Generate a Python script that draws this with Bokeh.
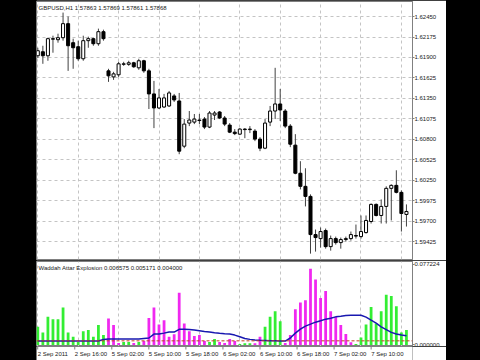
from bokeh.plotting import figure
from bokeh.models import Range1d, FixedTicker, Label, Spacer, PrintfTickFormatter, Span
from bokeh.layouts import column, row
from bokeh.embed import file_html
from bokeh.resources import INLINE

# ---------------- data ----------------
opens = [1.61923, 1.61977, 1.61923, 1.62146, 1.62139, 1.62166, 1.62355, 1.62099, 1.62045, 1.61883,
         1.62126, 1.62153, 1.62085, 1.62247, 1.61720, 1.61639, 1.61667, 1.61808, 1.61808, 1.61829,
         1.61761, 1.61856, 1.61720, 1.61410, 1.61221, 1.61234, 1.61248, 1.61383, 1.61315, 1.60707,
         1.61018, 1.61031, 1.61059, 1.61072, 1.60964, 1.61126, 1.61167, 1.61086, 1.60991, 1.60896,
         1.60869, 1.60937, 1.60930, 1.60910, 1.60802, 1.60680, 1.61031, 1.61180, 1.61275, 1.61180,
         1.60977, 1.60721, 1.60343, 1.60167, 1.60032, 1.59518, 1.59464, 1.59572, 1.59356, 1.59464,
         1.59410, 1.59451, 1.59464, 1.59505, 1.59491, 1.59545, 1.59694, 1.59924, 1.59775, 1.59897,
         1.60140, 1.60180, 1.60086, 1.59789]
highs = [1.62031, 1.62058, 1.62166, 1.62193, 1.62220, 1.62504, 1.62450, 1.62153, 1.62126, 1.62193,
         1.62180, 1.62166, 1.62288, 1.62274, 1.61748, 1.61707, 1.61842, 1.61842, 1.61856, 1.61842,
         1.61883, 1.61869, 1.61748, 1.61585, 1.61477, 1.61410, 1.61450, 1.61410, 1.61423, 1.61072,
         1.61180, 1.61140, 1.61140, 1.61099, 1.61180, 1.61180, 1.61180, 1.61113, 1.61018, 1.60937,
         1.60950, 1.60950, 1.60977, 1.60937, 1.60829, 1.61072, 1.61248, 1.61761, 1.61477, 1.61207,
         1.61004, 1.60869, 1.60505, 1.60410, 1.60059, 1.59586, 1.59613, 1.59599, 1.59505, 1.59491,
         1.59478, 1.59491, 1.59559, 1.59653, 1.59775, 1.59775, 1.59937, 1.59937, 1.59991, 1.60167,
         1.60194, 1.60383, 1.60113, 1.59924]
lows = [1.61896, 1.61815, 1.61856, 1.61964, 1.62099, 1.62126, 1.61720, 1.61748, 1.61856, 1.61856,
        1.62031, 1.62058, 1.62058, 1.62126, 1.61572, 1.61599, 1.61639, 1.61788, 1.61788, 1.61761,
        1.61734, 1.61694, 1.61207, 1.60950, 1.61207, 1.61221, 1.61234, 1.61302, 1.60599, 1.60680,
        1.60977, 1.61004, 1.61004, 1.60937, 1.60950, 1.61059, 1.61072, 1.60977, 1.60883, 1.60856,
        1.60856, 1.60815, 1.60883, 1.60775, 1.60640, 1.60667, 1.60977, 1.61072, 1.61045, 1.60950,
        1.60694, 1.60329, 1.60126, 1.59897, 1.59262, 1.59289, 1.59343, 1.59329, 1.59302, 1.59383,
        1.59329, 1.59424, 1.59437, 1.59464, 1.59464, 1.59532, 1.59667, 1.59762, 1.59667, 1.59667,
        1.59708, 1.60072, 1.59559, 1.59626]
closes = [1.61991, 1.61923, 1.62153, 1.62153, 1.62166, 1.62355, 1.62058, 1.62031, 1.61883, 1.62126,
          1.62153, 1.62085, 1.62247, 1.62153, 1.61653, 1.61680, 1.61815, 1.61815, 1.61829, 1.61775,
          1.61856, 1.61720, 1.61410, 1.61221, 1.61356, 1.61356, 1.61423, 1.61329, 1.60640, 1.61004,
          1.61059, 1.61072, 1.61052, 1.60964, 1.61153, 1.61153, 1.61086, 1.61004, 1.60896, 1.60876,
          1.60937, 1.60930, 1.60937, 1.60802, 1.60680, 1.61018, 1.61180, 1.61275, 1.61194, 1.60977,
          1.60734, 1.60343, 1.60167, 1.60032, 1.59518, 1.59478, 1.59559, 1.59356, 1.59464, 1.59410,
          1.59451, 1.59464, 1.59518, 1.59498, 1.59559, 1.59708, 1.59924, 1.59775, 1.59897, 1.60140,
          1.60180, 1.60086, 1.59802, 1.59829]

# Waddah Attar Explosion buffers
trend_up = [0.0174, 0.0121, 0.0270, 0.0248, 0.0248, 0.0359, 0.0121, 0.0079, 0.0029, 0.0133,
            0.0143, 0.0079, 0.0191, 0.0095, 0, 0, 0, 0.0029, 0.0029, 0,
            0.0029, 0, 0, 0, 0, 0, 0, 0, 0, 0,
            0, 0, 0, 0, 0.0029, 0.0057, 0, 0, 0, 0,
            0.0010, 0.0016, 0.0016, 0, 0, 0.0174, 0.0270, 0.0324, 0.0229, 0,
            0, 0, 0, 0, 0, 0, 0, 0, 0, 0,
            0, 0, 0, 0.0010, 0.0073, 0.0197, 0.0365, 0.0207, 0.0324, 0.0483,
            0.0470, 0.0372, 0.0121, 0.0143]
trend_down = [0, 0, 0, 0, 0, 0, 0, 0, 0, 0,
              0, 0, 0, 0, 0.0254, 0.0191, 0.0019, 0, 0, 0.0019,
              0, 0.0038, 0.0260, 0.0359, 0.0197, 0.0238, 0.0079, 0.0102, 0.0502, 0.0207,
              0.0133, 0.0086, 0.0095, 0.0038, 0, 0, 0.0029, 0.0019, 0.0057, 0.0038,
              0, 0, 0, 0.0016, 0.0079, 0, 0, 0, 0, 0.0019,
              0.0095, 0.0343, 0.0407, 0.0429, 0.0731, 0.0629, 0.0451, 0.0517, 0.0324, 0.0270,
              0.0191, 0.0105, 0.0026, 0, 0, 0, 0, 0, 0, 0,
              0, 0, 0, 0]
explosion = [0.0038, 0.0038, 0.0038, 0.0038, 0.0038, 0.0038, 0.0038, 0.0038, 0.0038, 0.0038,
             0.0038, 0.0038, 0.0038, 0.0052, 0.0057, 0.0057, 0.0057, 0.0057, 0.0057, 0.0057,
             0.0057, 0.0062, 0.0067, 0.0105, 0.0105, 0.0114, 0.0124, 0.0124, 0.0150, 0.0150,
             0.0148, 0.0143, 0.0136, 0.0129, 0.0124, 0.0117, 0.0112, 0.0108, 0.0105, 0.0095,
             0.0079, 0.0062, 0.0054, 0.0048, 0.0045, 0.0043, 0.0041, 0.0041, 0.0038, 0.0038,
             0.0067, 0.0114, 0.0152, 0.0181, 0.0200, 0.0219, 0.0233, 0.0248, 0.0257, 0.0270,
             0.0276, 0.0283, 0.0286, 0.0286, 0.0286, 0.0267, 0.0238, 0.0210, 0.0174, 0.0148,
             0.0121, 0.0105, 0.0095, 0.0089]
dead_zone = 0.004

price_ticks = [1.62450, 1.62175, 1.61900, 1.61625, 1.61350, 1.61075,
               1.60800, 1.60525, 1.60250, 1.59975, 1.59700, 1.59425]
ind_ticks = [0.0, 0.077224]
time_label_bars = [0, 8, 16, 24, 32, 40, 48, 56, 64, 72]
time_labels = ["2 Sep 2011", "2 Sep 16:00", "5 Sep 02:00", "5 Sep 10:00", "5 Sep 18:00",
               "6 Sep 02:00", "6 Sep 10:00", "6 Sep 18:00", "7 Sep 02:00", "7 Sep 10:00"]
main_title = "GBPUSD,H1  1.57863 1.57869 1.57861 1.57868"
ind_title = "Waddah Attar Explosion 0.006575 0.005171 0.004000"

# ---------------- derived ----------------
idx = list(range(len(opens)))
body_top = [max(o, c) for o, c in zip(opens, closes)]
body_bot = [min(o, c) for o, c in zip(opens, closes)]
body_fill = ["white" if c >= o else "black" for o, c in zip(opens, closes)]

FONT = "Liberation Sans"
FS = "6px"
TXT = "#202020"
FRAME = "#808080"
GRID = "#c4c4c4"

X0, X1 = -0.26, 74.2          # bar range covered by the 376 px plot frame
xr = Range1d(X0, X1)


def style_right_axis(fig, ticks, fmt):
    fig.yaxis.ticker = FixedTicker(ticks=ticks)
    fig.yaxis.formatter = PrintfTickFormatter(format=fmt)
    fig.yaxis.major_tick_out = 2
    fig.yaxis.major_tick_in = 0
    fig.yaxis.minor_tick_line_color = None
    fig.yaxis.axis_line_color = FRAME
    fig.yaxis.major_tick_line_color = FRAME
    fig.yaxis.major_label_standoff = 0
    fig.yaxis.major_label_text_font = FONT
    fig.yaxis.major_label_text_font_size = FS
    fig.yaxis.major_label_text_color = TXT


# ---------------- main price panel ----------------
p = figure(width=410, height=260, x_range=xr, y_range=Range1d(1.59183, 1.62653),
           output_backend="svg", toolbar_location=None,
           x_axis_location=None, y_axis_location="right",
           min_border_left=0, min_border_right=34, min_border_top=1, min_border_bottom=1,
           background_fill_color="white", border_fill_color="white",
           outline_line_color=FRAME, outline_line_width=1)
style_right_axis(p, price_ticks, "%.5f")
p.ygrid.grid_line_color = GRID
p.ygrid.grid_line_dash = "3 3"
p.xgrid.ticker = FixedTicker(ticks=time_label_bars)
p.xgrid.grid_line_color = GRID
p.xgrid.grid_line_dash = "3 3"

p.segment(x0=idx, y0=lows, x1=idx, y1=highs, line_color="#404040", line_width=1)
p.vbar(x=idx, width=0.6, top=body_top, bottom=body_bot, fill_color=body_fill,
       line_color="black", line_width=1)

p.add_layout(Label(x=2, y=252, x_units="screen", y_units="screen", text=main_title,
                   text_font=FONT, text_font_size=FS, text_color=TXT, text_baseline="middle"))

# ---------------- indicator panel ----------------
q = figure(width=410, height=86, x_range=xr, y_range=Range1d(-0.00144, 0.0801),
           output_backend="svg", toolbar_location=None,
           x_axis_location=None, y_axis_location="right",
           min_border_left=0, min_border_right=34, min_border_top=1, min_border_bottom=0,
           background_fill_color="white", border_fill_color="white",
           outline_line_color=FRAME, outline_line_width=1)
style_right_axis(q, ind_ticks, "%.6f")
q.ygrid.grid_line_color = None
q.xgrid.ticker = FixedTicker(ticks=time_label_bars)
q.xgrid.grid_line_color = GRID
q.xgrid.grid_line_dash = "3 3"

q.vbar(x=idx, width=0.55, top=trend_up, bottom=0, fill_color="#33ee33", line_color=None)
q.vbar(x=idx, width=0.55, top=trend_down, bottom=0, fill_color="#f028f0", line_color=None)
q.add_layout(Span(location=dead_zone, dimension="width", line_color="#c04020",
                  line_dash="3 2", line_width=1))
q.line(idx, explosion, line_color="#1818b0", line_width=1.5)

q.add_layout(Label(x=2, y=79, x_units="screen", y_units="screen", text=ind_title,
                   text_font=FONT, text_font_size=FS, text_color=TXT, text_baseline="middle"))

# ---------------- time-label strip (same bar scale, wider frame) ----------------
strip_x1 = X0 + (X1 - X0) * 410.0 / 376.0
s = figure(width=410, height=14, x_range=Range1d(X0, strip_x1), y_range=Range1d(0, 14),
           output_backend="svg", toolbar_location=None,
           x_axis_location=None, y_axis_location=None,
           min_border_left=0, min_border_right=0, min_border_top=0, min_border_bottom=0,
           background_fill_color="white", border_fill_color="white",
           outline_line_color=None)
s.xgrid.grid_line_color = None
s.ygrid.grid_line_color = None
s.segment(x0=time_label_bars, y0=[14] * len(time_label_bars),
          x1=time_label_bars, y1=[11] * len(time_label_bars),
          line_color=FRAME, line_width=1)
for b, t in zip(time_label_bars, time_labels):
    s.add_layout(Label(x=b, y=7, x_units="data", y_units="screen", text=t,
                       text_font=FONT, text_font_size=FS, text_color=TXT,
                       text_align="left", text_baseline="middle"))

left = Spacer(width=36, height=360, styles={"background-color": "black"})
layout = row(left, column(p, q, s), width=480, height=360,
             styles={"background-color": "black"})

open("out.html", "w").write(file_html(layout, INLINE))
